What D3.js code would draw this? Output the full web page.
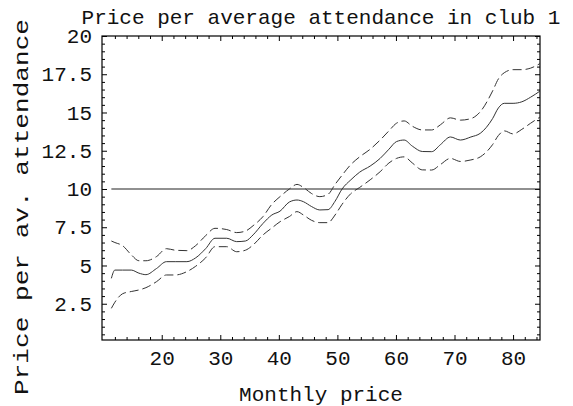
<!DOCTYPE html>
<html>
<head>
<meta charset="utf-8">
<script src="https://cdn.jsdelivr.net/npm/d3@7"></script>
<style>
  body { margin: 0; background: #fff; }
  text { font-family: "Liberation Mono", "DejaVu Sans Mono", monospace; fill: #111; }
</style>
</head>
<body>
<div class="chart"></div>
<script>
// monthly price grid
var prices = [11.4, 12, 13.3, 14.8, 16.1, 17.3, 19.1, 20.8, 22.3, 24.3, 25.8, 27.5, 29.1, 31.1,
  32.8, 34.3, 35.6, 37.3, 38.8, 40.2, 41.8, 43.1, 44.2, 45.6, 47, 48.4, 49.6, 50.8, 52.3, 53.8,
  55.6, 57.3, 58.8, 60.1, 61.4, 62.8, 64.5, 66.1, 67.6, 69.3, 71, 72.8, 74.4, 76.5, 77.5, 78.5,
  80, 81.5, 83, 84.6];

var midValues = [4.16, 4.7, 4.7, 4.7, 4.5, 4.4, 4.8, 5.25, 5.25, 5.25, 5.5, 6.1, 6.78, 6.78,
  6.56, 6.6, 7.0, 7.75, 8.3, 8.55, 9.15, 9.28, 9.17, 8.85, 8.63, 8.65, 9.2, 10.0, 10.6, 11.1,
  11.5, 12.0, 12.6, 13.1, 13.2, 12.8, 12.45, 12.44, 12.9, 13.4, 13.2, 13.4, 13.64, 14.6, 15.3,
  15.6, 15.6, 15.7, 16.0, 16.4];

var lowValues = [2.2, 2.6, 3.15, 3.3, 3.4, 3.55, 3.94, 4.38, 4.38, 4.6, 4.95, 5.5, 6.23, 6.23,
  5.9, 6.0, 6.34, 7.0, 7.45, 7.86, 8.2, 8.52, 8.3, 7.95, 7.8, 7.8, 8.3, 9.0, 9.7, 10.1,
  10.6, 11.13, 11.7, 12.0, 12.1, 11.7, 11.25, 11.24, 11.6, 12.0, 11.8, 11.9, 12.1, 12.9, 13.5,
  13.8, 13.6, 13.9, 14.3, 14.7];

var highValues = [6.6, 6.5, 6.3, 5.7, 5.31, 5.31, 5.58, 6.1, 6.0, 5.97, 6.3, 6.95, 7.43, 7.35,
  7.15, 7.25, 7.6, 8.2, 9.0, 9.5, 10.0, 10.3, 10.1, 9.7, 9.5, 9.65, 10.3, 10.9, 11.6, 12.1,
  12.6, 13.2, 13.8, 14.3, 14.45, 14.1, 13.86, 13.86, 14.2, 14.65, 14.5, 14.6, 15.05, 16.4, 17.2,
  17.6, 17.8, 17.8, 17.9, 18.2];

var refLevel = 10;
var xTicks = [20, 30, 40, 50, 60, 70, 80];
var yTicks = [2.5, 5, 7.5, 10, 12.5, 15, 17.5, 20];

var svgWidth = 573, svgHeight = 406;
var margin = { top: 36, left: 102, right: 33, bottom: 66 };
var width = svgWidth - margin.left - margin.right;
var height = svgHeight - margin.top - margin.bottom;

var svg = d3.select(".chart").append("svg")
  .attr("width", svgWidth)
  .attr("height", svgHeight);

var chartGroup = svg.append("g")
  .attr("transform", `translate(${margin.left}, ${margin.top})`);

var xScale = d3.scaleLinear().domain([9.8, 84.6]).range([0, width]);
var yScale = d3.scaleLinear().domain([0.13, 20]).range([height, 0]);

// frame with inward ticks on all sides
var xMinor = d3.range(10, 85, 2).filter(v => v % 10 !== 0);
var yMinor = d3.range(0.5, 20, 0.5).filter(v => Math.abs(v / 2.5 - Math.round(v / 2.5)) > 1e-6);

function tickSide(orient, scale, ticks, size, labels) {
  var axis = orient(scale).tickValues(ticks).tickSizeInner(-size).tickSizeOuter(0);
  if (!labels) axis.tickFormat("");
  else axis.tickFormat(d3.format("~g")).tickPadding(10);
  return axis;
}

var axes = [
  [d3.axisBottom, xScale, xTicks, 5, true, `translate(0, ${height})`],
  [d3.axisBottom, xScale, xMinor, 3, false, `translate(0, ${height})`],
  [d3.axisTop, xScale, xTicks, 5, false, "translate(0, 0)"],
  [d3.axisTop, xScale, xMinor, 3, false, "translate(0, 0)"],
  [d3.axisLeft, yScale, yTicks, 5, true, "translate(0, 0)"],
  [d3.axisLeft, yScale, yMinor, 3, false, "translate(0, 0)"],
  [d3.axisRight, yScale, yTicks, 5, false, `translate(${width}, 0)`],
  [d3.axisRight, yScale, yMinor, 3, false, `translate(${width}, 0)`]
];

axes.forEach(function(a) {
  var g = chartGroup.append("g")
    .attr("transform", a[5])
    .call(tickSide(a[0], a[1], a[2], a[3], a[4]));
  g.select(".domain").remove();
  g.selectAll("line").attr("stroke", "#000");
  g.selectAll("text").style("font-size", "21px").style("font-family", "Liberation Mono");
});

chartGroup.append("rect")
  .attr("width", width)
  .attr("height", height)
  .attr("fill", "none")
  .attr("stroke", "#000")
  .attr("stroke-width", 1.2);

// reference line
chartGroup.append("line")
  .attr("x1", xScale(prices[0]))
  .attr("x2", xScale(prices[prices.length - 1]))
  .attr("y1", yScale(refLevel))
  .attr("y2", yScale(refLevel))
  .attr("stroke", "#222")
  .attr("stroke-width", 1.2);

var line = d3.line()
  .x(d => xScale(d[0]))
  .y(d => yScale(d[1]))
  .curve(d3.curveMonotoneX);

function pairs(vals) { return prices.map((p, i) => [p, vals[i]]); }

chartGroup.append("path")
  .attr("d", line(pairs(highValues)))
  .attr("fill", "none")
  .attr("stroke", "#333")
  .attr("stroke-width", 1)
  .attr("stroke-dasharray", "9,4");

chartGroup.append("path")
  .attr("d", line(pairs(lowValues)))
  .attr("fill", "none")
  .attr("stroke", "#333")
  .attr("stroke-width", 1)
  .attr("stroke-dasharray", "9,4");

chartGroup.append("path")
  .attr("d", line(pairs(midValues)))
  .attr("fill", "none")
  .attr("stroke", "#333")
  .attr("stroke-width", 1);

// labels
svg.append("text")
  .attr("x", margin.left + width / 2)
  .attr("y", 24)
  .attr("text-anchor", "middle")
  .style("font-size", "21px")
  .text("Price per average attendance in club 1");

svg.append("text")
  .attr("x", margin.left + width / 2)
  .attr("y", 401)
  .attr("text-anchor", "middle")
  .style("font-size", "21px")
  .text("Monthly price");

svg.append("text")
  .attr("transform", "rotate(-90)")
  .attr("x", -207)
  .attr("y", 28)
  .attr("text-anchor", "middle")
  .attr("textLength", 376)
  .attr("lengthAdjust", "spacingAndGlyphs")
  .style("font-size", "21px")
  .text("Price per av. attendance");
</script>
</body>
</html>
